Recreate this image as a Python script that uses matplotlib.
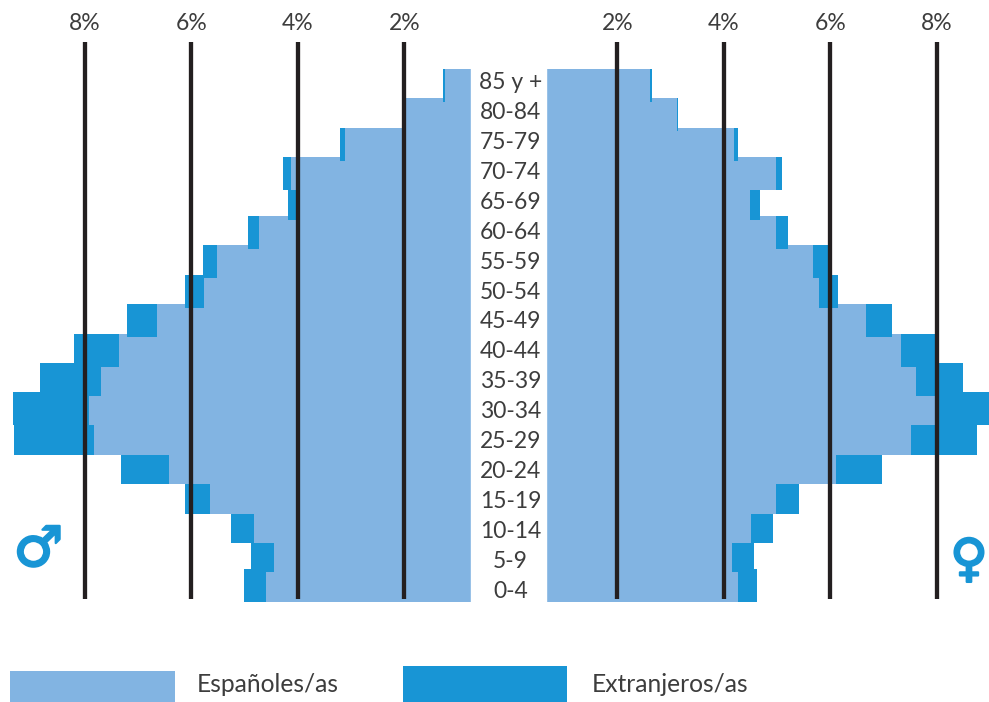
import numpy as np
import matplotlib
matplotlib.use("Agg")
import matplotlib.pyplot as plt
import matplotlib.patheffects as pe
from matplotlib.patches import Rectangle

plt.rcParams['font.family'] = ['Lato', 'DejaVu Sans']

# --- Datos: % de población por grupo de edad, de mayor a menor ---
edades = ["85 y +", "80-84", "75-79", "70-74", "65-69", "60-64", "55-59", "50-54", "45-49",
          "40-44", "35-39", "30-34", "25-29", "20-24", "15-19", "10-14", "5-9", "0-4"]
hombres_esp = [1.24, 1.97, 3.11, 4.13, 4.03, 4.73, 5.52, 5.76, 6.64,
               7.36, 7.69, 7.92, 7.83, 6.42, 5.65, 4.82, 4.45, 4.60]
hombres_ext = [0.04, 0.04, 0.09, 0.15, 0.15, 0.21, 0.26, 0.36, 0.56,
               0.84, 1.15, 1.43, 1.50, 0.90, 0.47, 0.43, 0.43, 0.41]
mujeres_esp = [2.61, 3.11, 4.19, 4.98, 4.49, 4.98, 5.67, 5.78, 6.67,
               7.32, 7.61, 7.96, 7.51, 6.10, 4.98, 4.51, 4.15, 4.26]
mujeres_ext = [0.04, 0.03, 0.08, 0.11, 0.19, 0.23, 0.30, 0.36, 0.49,
               0.68, 0.88, 1.03, 1.24, 0.86, 0.43, 0.41, 0.41, 0.36]
marcas = [2, 4, 6, 8]

AZUL_ESP = "#82b4e2"
AZUL_EXT = "#1895d5"
NEGRO = "#231f20"
TEXTO = "#3d3d3d"

fig = plt.figure(figsize=(9.89, 7.02), dpi=100)
ax = fig.add_axes([0, 0, 1, 1])
ax.set_xlim(-9.59, 8.976)
ax.set_ylim(21.53, -2.347)
ax.axis("off")

# Las barras solapan un poco con la fila siguiente: se pinta de abajo arriba
alto = 1.122
for i in range(len(edades) - 1, -1, -1):
    ax.barh(i, -hombres_esp[i], height=alto, align="edge", color=AZUL_ESP)
    ax.barh(i, -hombres_ext[i], left=-hombres_esp[i], height=alto, align="edge", color=AZUL_EXT)
    ax.barh(i, mujeres_esp[i], height=alto, align="edge", color=AZUL_ESP)
    ax.barh(i, mujeres_ext[i], left=mujeres_esp[i], height=alto, align="edge", color=AZUL_EXT)

# Franja central para las etiquetas de edad
ax.axvspan(-0.75, 0.66, color="white", zorder=3)

# Líneas de referencia y porcentajes
for m in marcas:
    for x in (-m, m):
        ax.plot([x, x], [-0.92, 18.03], color=NEGRO, lw=3.1, solid_capstyle="butt", zorder=4)
        ax.text(x, -1.56, f"{m}%", ha="center", va="center", fontsize=16.5, color=TEXTO, zorder=5)

# Etiquetas de edad
for i, e in enumerate(edades):
    ax.text(-0.01, 0.46 + 1.018 * i, e, ha="center", va="center", fontsize=16.5, color=TEXTO, zorder=5)

# Símbolos de sexo
trazo = [pe.withStroke(linewidth=1.6, foreground=AZUL_EXT)]
ax.text(-8.87, 16.39, "\u2642", ha="center", va="center", fontsize=40, color=AZUL_EXT,
        family="DejaVu Sans", zorder=5, path_effects=trazo)
ax.text(8.6, 16.75, "\u2640", ha="center", va="center", fontsize=37, color=AZUL_EXT,
        family="DejaVu Sans", zorder=5, path_effects=trazo)

# Leyenda
W, H = 989.0, 702.0
fig.patches.append(Rectangle((10 / W, 0), 165 / W, 31 / H, transform=fig.transFigure,
                             facecolor=AZUL_ESP, edgecolor="none"))
fig.patches.append(Rectangle((403 / W, 0), 164 / W, 36 / H, transform=fig.transFigure,
                             facecolor=AZUL_EXT, edgecolor="none"))
fig.text(197 / W, 1 - 685 / H, "Españoles/as", ha="left", va="center", fontsize=17.7, color=TEXTO)
fig.text(592 / W, 1 - 685 / H, "Extranjeros/as", ha="left", va="center", fontsize=17.7, color=TEXTO)

fig.savefig("out.png", dpi=100)
